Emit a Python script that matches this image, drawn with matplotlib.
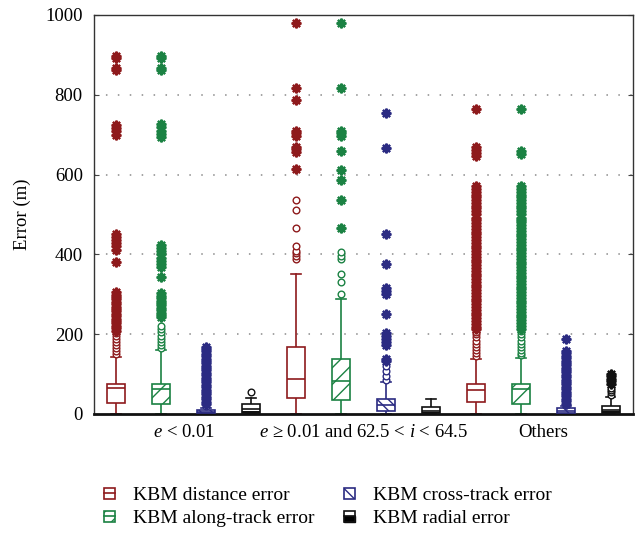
import matplotlib
matplotlib.use("Agg")
import matplotlib.pyplot as plt
from matplotlib.legend_handler import HandlerBase
from matplotlib.patches import Rectangle
from matplotlib.lines import Line2D

plt.rcParams["font.family"] = ["Liberation Serif", "DejaVu Serif"]
plt.rcParams["mathtext.fontset"] = "custom"
plt.rcParams["mathtext.rm"] = "Liberation Serif"
plt.rcParams["mathtext.it"] = "Liberation Serif:italic"
plt.rcParams["hatch.linewidth"] = 1.0

# ---------------------------------------------------------------- data
groups = [r"$e$ < 0.01", r"$e$ ≥ 0.01 and 62.5 < $i$ < 64.5", "Others"]
series = ["KBM distance error", "KBM along-track error",
          "KBM cross-track error", "KBM radial error"]
colors = ["#8e1a1c", "#1b8243", "#2b2b82", "#111111"]
hatches = ["", "//", "\\\\\\", ""]

# box statistics, ordered group by group: distance, along, cross, radial
box_q1 = [27, 24, 2, 3,    40, 36, 7, 2,    29, 25, 3, 3]
box_med = [65, 63, 5, 12,  88, 82, 22, 8,   60, 63, 8, 10]
box_q3 = [74, 74, 10, 24,  167, 139, 37, 18, 75, 75, 15, 20]
whisk_lo = [0, 0, 0, 0,    0, 0, 0, 0,      0, 0, 0, 0]
whisk_hi = [143, 160, 16, 40,  352, 288, 79, 38,  138, 140, 20, 42]

# outliers (circles)
mild_out = [
    [150, 158, 165, 172, 180, 188, 196, 203],
    [166, 172, 180, 188, 196, 205, 213, 220],
    [19],
    [55],
    [388, 397, 403, 409, 421, 467, 511, 537],
    [300, 330, 351, 388, 397, 405],
    [84, 96, 108, 120],
    [],
    [145, 152, 160, 168, 176, 184, 192, 200, 206],
    [147, 154, 161, 168, 176, 184, 192, 200, 208],
    [23],
    [48, 54, 60, 66],
]

# extreme values (asterisks)
extreme_out = [
    [209, 215, 221, 227, 233, 239, 245, 251, 257, 263, 269, 275, 281, 287,
     293, 299, 305, 380, 412, 420, 428, 436, 444, 450, 700, 708, 716, 724,
     862, 868, 891, 897],
    [242, 248, 254, 260, 266, 272, 278, 284, 290, 296, 303, 344, 368, 376,
     384, 392, 400, 408, 416, 424, 694, 702, 710, 718, 726, 862, 868, 891,
     897],
    [25, 31, 37, 43, 49, 55, 61, 67, 73, 79, 85, 91, 97, 103, 109, 115, 121,
     127, 133, 139, 145, 151, 157, 163, 169],
    [],
    [613, 657, 664, 669, 697, 704, 710, 787, 818, 981],
    [467, 536, 586, 612, 658, 697, 704, 710, 818, 981],
    [132, 137, 172, 180, 188, 196, 204, 250, 300, 308, 316, 376, 451, 667,
     755],
    [],
    [212, 219, 226, 233, 240, 247, 254, 261, 268, 275, 282, 289, 296, 303,
     310, 317, 324, 331, 338, 345, 352, 359, 366, 373, 380, 387, 394, 401,
     408, 415, 422, 429, 436, 443, 450, 457, 464, 471, 478, 485, 492, 501,
     508, 515, 522, 529, 536, 543, 550, 557, 564, 571, 647, 655, 661, 668,
     764],
    [214, 221, 228, 235, 242, 249, 256, 263, 270, 277, 284, 291, 298, 305,
     312, 319, 326, 333, 340, 347, 354, 361, 368, 375, 382, 389, 396, 403,
     410, 417, 424, 431, 438, 445, 452, 459, 466, 473, 480, 487, 492, 501,
     508, 515, 522, 529, 536, 543, 550, 557, 564, 571, 651, 658, 764],
    [26, 32, 38, 44, 50, 56, 62, 68, 74, 80, 86, 92, 98, 104, 110, 116, 122,
     128, 134, 140, 146, 152, 158, 188],
    [76, 82, 88, 94, 100],
]

y_ticks = [0, 200, 400, 600, 800, 1000]

# ---------------------------------------------------------------- figure
fig = plt.figure(figsize=(6.41, 5.35), dpi=100)
ax = fig.add_axes([0.1466, 0.2262, 0.8409, 0.7458])

n_series = len(series)
positions = list(range(1, len(box_q1) + 1))
stats = []
for k in range(len(box_q1)):
    stats.append(dict(q1=box_q1[k], med=box_med[k], q3=box_q3[k],
                      whislo=whisk_lo[k], whishi=whisk_hi[k], fliers=[]))

art = ax.bxp(stats, positions=positions, widths=0.4, patch_artist=True,
             showfliers=False, showcaps=True, capwidths=0.22,
             manage_ticks=False)

for k, pos in enumerate(positions):
    s = k % n_series
    c = colors[s]
    box = art["boxes"][k]
    box.set_facecolor("white")
    box.set_edgecolor(c)
    box.set_linewidth(1.2)
    box.set_hatch(hatches[s])
    box.set_zorder(3)
    art["medians"][k].set_color(c)
    art["medians"][k].set_linewidth(1.2)
    art["medians"][k].set_zorder(4)
    for w in art["whiskers"][2 * k:2 * k + 2]:
        w.set_color(c)
        w.set_linewidth(1.2)
    for cp in art["caps"][2 * k:2 * k + 2]:
        cp.set_color(c)
        cp.set_linewidth(1.2)
    if s == 3:
        ax.fill_between([pos - 0.2, pos + 0.2], box_q1[k],
                        (box_q1[k] + box_med[k]) / 2, color=c, zorder=4,
                        linewidth=0)
    if mild_out[k]:
        ax.plot([pos] * len(mild_out[k]), mild_out[k], linestyle="none",
                marker="o", markersize=4.8, markerfacecolor="white",
                markeredgecolor=c, markeredgewidth=1.0, zorder=5)
    if extreme_out[k]:
        ax.plot([pos] * len(extreme_out[k]), extreme_out[k],
                linestyle="none", marker=(8, 2, 0), markersize=7.0,
                markeredgecolor=c, markeredgewidth=1.6, zorder=5)

ax.set_xlim(0.5, len(box_q1) + 0.5)
ax.set_ylim(0, 1000)
ax.set_yticks(y_ticks)
ax.set_yticklabels([str(v) for v in y_ticks], fontsize=13.5)
ax.set_xticks([g * n_series + 2.5 for g in range(len(groups))])
ax.set_xticklabels(groups, fontsize=13.5)
ax.tick_params(axis="x", length=0, pad=7)
ax.tick_params(axis="y", direction="in", length=3.5, left=True, right=True,
               pad=8, color="#444444")
ax.set_ylabel("Error (m)", fontsize=13.5, labelpad=10)

for v in y_ticks[1:-1]:
    ax.axhline(v, color="#8a8a8a", linewidth=1.1, linestyle=(0, (1, 6.8)),
               zorder=1)

for side in ["left", "top", "right"]:
    ax.spines[side].set_color("#333333")
    ax.spines[side].set_linewidth(1.0)
ax.spines["bottom"].set_color("#111111")
ax.spines["bottom"].set_linewidth(2.0)


# ---------------------------------------------------------------- legend
class Icon:
    def __init__(self, color, hatch, kind):
        self.color = color
        self.hatch = hatch
        self.kind = kind


class IconHandler(HandlerBase):
    def create_artists(self, legend, orig_handle, xdescent, ydescent,
                       width, height, fontsize, trans):
        sz = min(width, height)
        x0 = -xdescent
        y0 = -ydescent + (height - sz) / 2
        out = []
        if orig_handle.kind == 3:
            out.append(Rectangle((x0, y0), sz, sz / 2, facecolor="black",
                                 edgecolor="black", linewidth=1.0,
                                 transform=trans))
        out.append(Rectangle((x0, y0), sz, sz, facecolor="none",
                             edgecolor=orig_handle.color,
                             hatch=orig_handle.hatch, linewidth=1.2,
                             transform=trans))
        if orig_handle.kind != 2:
            out.append(Line2D([x0, x0 + sz], [y0 + sz / 2, y0 + sz / 2],
                              color=orig_handle.color, linewidth=1.2,
                              transform=trans))
        return out


handles = [Icon(colors[s], hatches[s], s) for s in range(n_series)]
fig.legend(handles, series, handler_map={Icon: IconHandler()}, ncol=2,
           loc="center", bbox_to_anchor=(0.512, 0.052), frameon=False,
           fontsize=14, handlelength=0.55, handleheight=0.55,
           handletextpad=0.95, columnspacing=1.5, labelspacing=0.3)

fig.savefig("out.png", dpi=100)
